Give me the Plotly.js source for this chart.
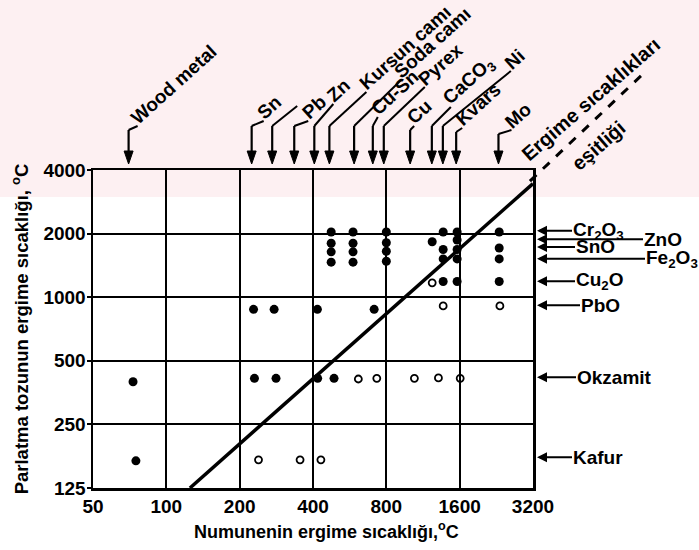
<!DOCTYPE html>
<html>
<head>
<meta charset="utf-8">
<script src="https://cdn.plot.ly/plotly-3.0.1.min.js"></script>
<style>html,body{margin:0;padding:0;background:#fff}#chart{width:699px;height:550px}</style>
</head>
<body>
<div id="chart"></div>
<script>
// ---------- data ----------
const xTicks = [50, 100, 200, 400, 800, 1600, 3200];
const yTicks = [125, 250, 500, 1000, 2000, 4000];

// filled dots
const filledX = [475, 584, 800, 1369, 1562, 2325,
                 475, 584, 800, 1234, 1562,
                 475, 584, 800, 1369, 1562, 2325,
                 475, 584, 800, 1369, 1562, 2325,
                 1369, 1562, 2325,
                 228, 277, 417, 713,
                 73, 230, 282, 418, 488,
                 75];
const filledY = [2035, 2035, 2035, 2035, 2035, 2035,
                 1800, 1800, 1810, 1830, 1866,
                 1640, 1640, 1650, 1682, 1682, 1709,
                 1465, 1465, 1480, 1518, 1518, 1518,
                 1186, 1186, 1186,
                 876, 876, 876, 876,
                 398, 413, 413, 413, 413,
                 168];
// open dots
const openX = [1234, 1369, 2340, 614, 731, 1043, 1309, 1608, 239, 354, 431];
const openY = [1170, 909, 909, 410, 413, 413, 415, 413, 170, 170, 170];

// equality line (melting temperatures equal)
const eqX = [125, 3200];
const eqY = [125, 3450];

// substrate materials (top arrows)
const topNames = ['Wood metal', 'Sn', '', 'Pb', 'Zn', 'Kursun camı', 'Soda camı', 'Cu-Sn', 'Pyrex', 'Cu',
                  'CaCO<sub>3</sub>', 'Ni', 'Kvars', 'Mo'];
const topValues = [70, 224, 272, 335, 405, 467, 590, 704, 781, 1002, 1230, 1365, 1548, 2309];

// powders (right arrows)
const rightNames = ['Cr<sub>2</sub>O<sub>3</sub>', 'ZnO', 'SnO', 'Fe<sub>2</sub>O<sub>3</sub>', 'Cu<sub>2</sub>O', 'PbO', 'Okzamit', 'Kafur'];
const rightValues = [2065, 1880, 1730, 1520, 1190, 915, 418, 175];

// ---------- layout helpers (positions / styles, in pixels) ----------
const labelDx = [9, 12, 25, 14, 19, 37, 47, 5, 41, 4, 19, 68, 6, 13];   // label start, right of arrow
const labelH  = [44, 49, 64, 49, 66, 78, 90, 53, 83, 44, 63, 99, 42, 40]; // label start, above frame
const rightTail = [35, 106, 38, 108, 38, 43, 39, 35];

const FONT = 'Liberation Sans, Arial, Helvetica, sans-serif';
const TOPFS = 19;
const ANG = 42;
const th = ANG * Math.PI / 180;
const PL = 93, PT = 170, PW = 440, PH = 318;

const cv = document.createElement('canvas').getContext('2d');
function textWidth(html, fs) {
  let w = 0;
  html.split(/(<sub>.*?<\/sub>)/).forEach(p => {
    if (!p) return;
    const m = p.match(/^<sub>(.*)<\/sub>$/);
    cv.font = 'bold ' + (m ? fs * 0.7 : fs) + 'px "Liberation Sans"';
    w += cv.measureText(m ? m[1] : p).width;
  });
  return w;
}

const traces = [
  {x: eqX, y: eqY, mode: 'lines', line: {color: '#000', width: 3.5}, hoverinfo: 'skip'},
  {x: filledX, y: filledY, mode: 'markers', marker: {color: '#000', size: 9, symbol: 'circle'}, cliponaxis: false},
  {x: openX, y: openY, mode: 'markers', marker: {color: '#000', size: 7, symbol: 'circle-open', line: {width: 1.8, color: '#000'}}, cliponaxis: false}
];

const shapes = [];
const annotations = [];

// faint pink watermark band at the top of the scan
shapes.push({type: 'rect', xref: 'paper', yref: 'paper', layer: 'below',
             x0: -PL / PW, x1: (699 - PL) / PW, y0: (PT + PH - 197) / PH, y1: (PT + PH) / PH,
             fillcolor: '#fdf0f2', line: {width: 0}});

topValues.forEach((v, i) => {
  const dx = labelDx[i], h = labelH[i];
  const sTop = Math.min(44, h - 4);
  const common = {xref: 'x', yref: 'paper', xsizemode: 'pixel', ysizemode: 'pixel', xanchor: v, yanchor: 1};
  shapes.push(Object.assign({type: 'line', x0: 0, y0: 16, x1: 0, y1: sTop, line: {color: '#000', width: 2.2}}, common));
  shapes.push(Object.assign({type: 'path', path: 'M -4.5,19 L 4.5,19 L 0,6 Z', fillcolor: '#000', line: {color: '#000', width: 1}}, common));
  shapes.push(Object.assign({type: 'line', x0: 0, y0: sTop, x1: dx, y1: h, line: {color: '#000', width: 2}}, common));
  if (topNames[i]) {
    const W = textWidth(topNames[i], TOPFS);
    const k = 0.35 * TOPFS;
    const cx = dx + (W / 2 + 1) * Math.cos(th) - k * Math.sin(th);
    const cy = h + (W / 2 + 1) * Math.sin(th) + k * Math.cos(th);
    annotations.push({
      xref: 'x', yref: 'paper', x: Math.log10(v), y: 1, xshift: cx, yshift: cy,
      xanchor: 'center', yanchor: 'middle', textangle: -ANG, showarrow: false, borderpad: 0,
      text: topNames[i], font: {family: FONT, size: TOPFS, color: '#000', weight: 'bold'}
    });
  }
});

rightValues.forEach((v, i) => {
  annotations.push({
    xref: 'paper', yref: 'y', x: 1 + 4 / PW, y: Math.log10(v),
    showarrow: true, arrowhead: 2, arrowsize: 1, arrowwidth: 2, arrowcolor: '#000',
    ax: rightTail[i], ay: 0, xanchor: 'left', standoff: 0, borderpad: 0,
    text: rightNames[i], font: {family: FONT, size: 19, color: '#000', weight: 'bold'}
  });
});

// dashed continuation of the equality line beyond the frame
shapes.push({type: 'line', xref: 'x domain', yref: 'y domain', x0: 0.993, y0: 0.965, x1: 1.259, y1: 1.314,
             line: {color: '#000', width: 3, dash: 'dash'}});
annotations.push({xref: 'paper', yref: 'paper', x: (591 - PL) / PW, y: (PT + PH - 99) / PH,
                  xanchor: 'center', yanchor: 'middle', textangle: -41, showarrow: false,
                  text: 'Ergime sıcaklıkları', font: {family: FONT, size: 20, color: '#000', weight: 'bold'}});
annotations.push({xref: 'paper', yref: 'paper', x: (598 - PL) / PW, y: (PT + PH - 146) / PH,
                  xanchor: 'center', yanchor: 'middle', textangle: -41, showarrow: false,
                  text: 'eşitliği', font: {family: FONT, size: 20, color: '#000', weight: 'bold'}});

// x axis title (centred as in the scan)
annotations.push({xref: 'paper', yref: 'paper', x: (326 - PL) / PW, y: (PT + PH - 530) / PH,
                  xanchor: 'center', yanchor: 'middle', showarrow: false,
                  text: 'Numunenin ergime sıcaklığı,<sup>o</sup>C',
                  font: {family: FONT, size: 18, color: '#000', weight: 'bold'}});

const axisCommon = {
  type: 'log', showgrid: true, gridcolor: '#000', gridwidth: 2,
  showline: true, linecolor: '#000', linewidth: 2.5, mirror: true, zeroline: false,
  ticks: 'outside', ticklen: 4, tickwidth: 2, tickcolor: '#000',
  tickfont: {family: FONT, size: 19, color: '#000', weight: 'bold'},
  automargin: false, fixedrange: true
};

const layout = {
  width: 699, height: 550,
  margin: {l: PL, r: 699 - PL - PW, t: PT, b: 550 - PT - PH},
  paper_bgcolor: '#fff', plot_bgcolor: 'rgba(0,0,0,0)',
  showlegend: false,
  xaxis: Object.assign({}, axisCommon, {
    range: [Math.log10(50), Math.log10(3200)],
    tickvals: xTicks, ticktext: xTicks.map(String), ticks: ''
  }),
  yaxis: Object.assign({}, axisCommon, {
    range: [Math.log10(125), Math.log10(4000)],
    tickvals: yTicks, ticktext: yTicks.map(String), ticklabelstandoff: -3,
    title: {text: 'Parlatma tozunun ergime sıcaklığı, <sup>o</sup>C', standoff: 10,
            font: {family: FONT, size: 18.5, color: '#000', weight: 'bold'}}
  }),
  shapes: shapes,
  annotations: annotations
};

Plotly.newPlot('chart', traces, layout, {staticPlot: true, displayModeBar: false});
</script>
</body>
</html>
